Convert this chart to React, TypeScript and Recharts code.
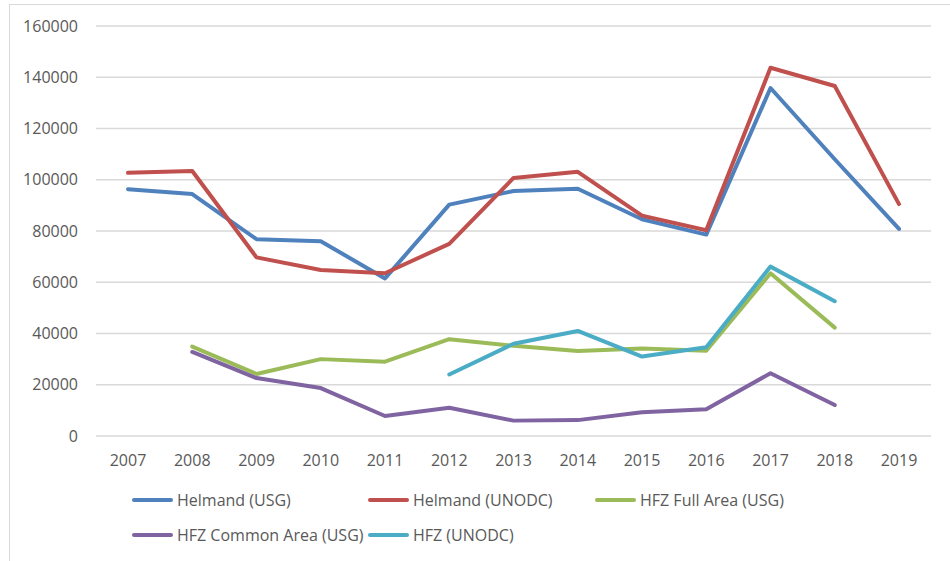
import { LineChart, Line, XAxis, YAxis, CartesianGrid } from "recharts";

const years = ["2007", "2008", "2009", "2010", "2011", "2012", "2013", "2014", "2015", "2016", "2017", "2018", "2019"];

const helmandUsg = [96300, 94400, 76800, 76000, 61500, 90300, 95600, 96500, 84600, 78600, 135800, 108000, 80800];
const helmandUnodc = [102700, 103400, 69700, 64800, 63500, 75000, 100700, 103100, 86000, 80300, 143700, 136600, 90500];
const hfzFullUsg = [null, 34900, 24200, 30000, 29000, 37800, 35200, 33200, 34100, 33300, 63500, 42300, null];
const hfzCommonUsg = [null, 32800, 22600, 18700, 7800, 11000, 6000, 6200, 9300, 10400, 24500, 12100, null];
const hfzUnodc = [null, null, null, null, null, 24000, 36000, 41000, 31000, 34600, 66100, 52600, null];

const yTicks = [0, 20000, 40000, 60000, 80000, 100000, 120000, 140000, 160000];

const series = [
  { key: "helmandUsg", name: "Helmand (USG)", color: "#4F81BD", values: helmandUsg },
  { key: "helmandUnodc", name: "Helmand (UNODC)", color: "#C0504D", values: helmandUnodc },
  { key: "hfzFullUsg", name: "HFZ Full Area (USG)", color: "#9BBB59", values: hfzFullUsg },
  { key: "hfzCommonUsg", name: "HFZ Common Area (USG)", color: "#8064A2", values: hfzCommonUsg },
  { key: "hfzUnodc", name: "HFZ (UNODC)", color: "#4BACC6", values: hfzUnodc },
];

const data = years.map((year, i) => {
  const row: Record<string, string | number | null> = { year };
  series.forEach((s) => {
    row[s.key] = s.values[i];
  });
  return row;
});

const FONT = "'Open Sans', sans-serif";
const TEXT = "#595959";

// legend slots, Excel-style rows
const legendSlots = [
  { left: 132, top: 490 },
  { left: 368, top: 490 },
  { left: 595, top: 490 },
  { left: 132, top: 525 },
  { left: 368, top: 525 },
];

export default function App() {
  return (
    <div
      style={{
        position: "fixed",
        left: 0,
        top: 0,
        width: 950,
        height: 561,
        overflow: "hidden",
        background: "#fff",
        fontFamily: FONT,
      }}
    >
      <div
        style={{
          position: "absolute",
          left: 9,
          top: 4,
          width: 980,
          height: 600,
          border: "1px solid #d9d9d9",
        }}
      />
      <div style={{ position: "absolute", left: 0, top: 0 }}>
        <LineChart width={950} height={561} data={data} margin={{ top: 26, right: 19, bottom: 95, left: 0 }}>
          <CartesianGrid vertical={false} stroke="#d9d9d9" strokeWidth={1.3} />
          <XAxis
            dataKey="year"
            axisLine={false}
            tickLine={false}
            tickSize={0}
            tickMargin={19}
            height={30}
            interval={0}
            padding={{ left: 32, right: 32 }}
            tick={{ fontSize: 16, fill: TEXT, fontFamily: FONT }}
          />
          <YAxis
            domain={[0, 160000]}
            ticks={yTicks}
            width={96}
            axisLine={false}
            tickLine={false}
            tickSize={0}
            tickMargin={18}
            tick={{ fontSize: 16, fill: TEXT, fontFamily: FONT }}
          />
          {series.map((s) => (
            <Line
              key={s.key}
              dataKey={s.key}
              name={s.name}
              stroke={s.color}
              strokeWidth={4}
              strokeLinecap="round"
              strokeLinejoin="round"
              dot={false}
              activeDot={false}
              connectNulls={false}
              isAnimationActive={false}
            />
          ))}
        </LineChart>
      </div>
      {series.map((s, i) => (
        <div
          key={s.key}
          style={{
            position: "absolute",
            left: legendSlots[i].left,
            top: legendSlots[i].top,
            height: 20,
            display: "flex",
            alignItems: "center",
            fontSize: 16,
            color: TEXT,
            whiteSpace: "nowrap",
          }}
        >
          <span
            style={{
              display: "inline-block",
              width: 41,
              height: 4,
              borderRadius: 2,
              background: s.color,
              marginRight: 4,
            }}
          />
          {s.name}
        </div>
      ))}
    </div>
  );
}
